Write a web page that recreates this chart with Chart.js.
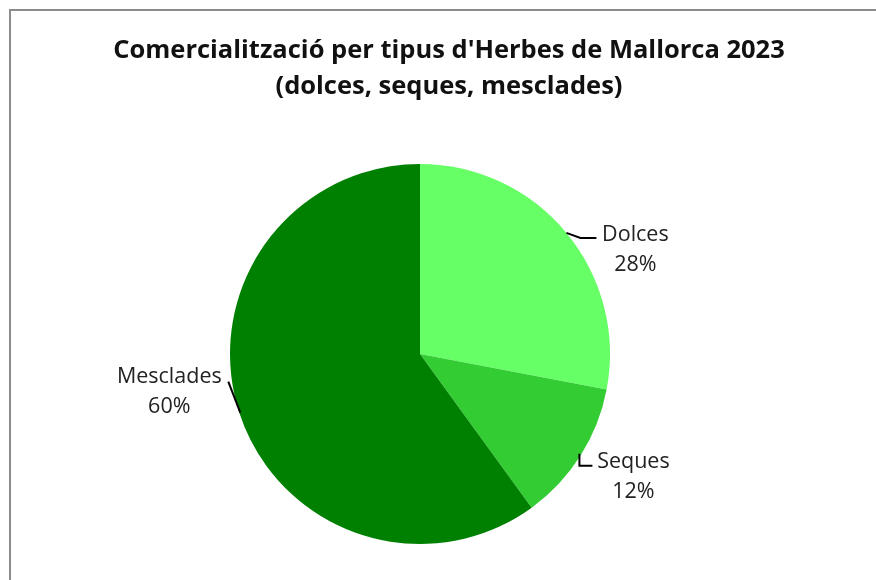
<!DOCTYPE html>
<html>
<head>
<meta charset="utf-8">
<script src="https://cdn.jsdelivr.net/npm/chart.js@4"></script>
<style>
  body { margin: 0; background: #fff; }
  #frame { position: absolute; left: 9px; top: 9px; width: 900px; height: 600px; border: 2px solid #8c8c8c; }
  #wrap { position: absolute; left: 0; top: 0; width: 876px; height: 580px; }
</style>
</head>
<body>
<div id="frame"></div>
<div id="wrap"><canvas id="chart"></canvas></div>
<script>
const categories = ["Dolces", "Seques", "Mesclades"];
const shares = [28, 12, 60];
const sliceColors = ["#66ff66", "#33cc33", "#008000"];
const titleLines = ["Comercialització per tipus d'Herbes de Mallorca 2023", "(dolces, seques, mesclades)"];

// label placement, relative to the slice edge at its middle angle
const labelLayout = [
  { dx: 69, dy: 17, leader: [[0, 0], [14, 5], [30, 5]] },
  { dx: 53, dy: 21, leader: [[-1, -2], [-1, 10], [12, 10]] },
  { dx: -70, dy: -21, leader: [[1, 0], [-11, -31]] },
];

// title centred on the whole frame (the pie sits a bit to the left of it)
const frameTitle = {
  id: "frameTitle",
  afterDraw(chart) {
    const ctx = chart.ctx;
    ctx.save();
    ctx.fillStyle = "#111";
    ctx.font = "bold 25.5px 'Open Sans'";
    ctx.textAlign = "center";
    ctx.textBaseline = "middle";
    titleLines.forEach((line, i) => {
      ctx.fillText(line, 449, 51 + i * 36);
    });
    ctx.restore();
  },
};

const pieLabels = {
  id: "pieLabels",
  afterDatasetsDraw(chart) {
    const ctx = chart.ctx;
    const meta = chart.getDatasetMeta(0);
    ctx.save();
    meta.data.forEach((arc, i) => {
      const mid = (arc.startAngle + arc.endAngle) / 2;
      const ex = arc.x + Math.cos(mid) * arc.outerRadius;
      const ey = arc.y + Math.sin(mid) * arc.outerRadius;
      const lay = labelLayout[i];

      ctx.strokeStyle = "#000";
      ctx.lineWidth = 2;
      ctx.beginPath();
      lay.leader.forEach((p, j) => {
        if (j === 0) ctx.moveTo(ex + p[0], ey + p[1]);
        else ctx.lineTo(ex + p[0], ey + p[1]);
      });
      ctx.stroke();

      const tx = ex + lay.dx;
      const ty = ey + lay.dy;
      ctx.fillStyle = "#222";
      ctx.font = "21.5px 'Open Sans'";
      ctx.textAlign = "center";
      ctx.textBaseline = "middle";
      ctx.fillText(categories[i], tx, ty - 15);
      ctx.fillText(shares[i] + "%", tx, ty + 15);
    });
    ctx.restore();
  },
};

new Chart(document.getElementById("chart"), {
  type: "pie",
  data: {
    labels: categories,
    datasets: [
      {
        data: shares,
        backgroundColor: sliceColors,
        borderWidth: 0,
      },
    ],
  },
  options: {
    responsive: true,
    maintainAspectRatio: false,
    animation: false,
    layout: { padding: { left: 200, right: 236, top: 164, bottom: 36 } },
    plugins: {
      legend: { display: false },
      tooltip: { enabled: false },
      title: { display: false },
    },
  },
  plugins: [frameTitle, pieLabels],
});
</script>
</body>
</html>
